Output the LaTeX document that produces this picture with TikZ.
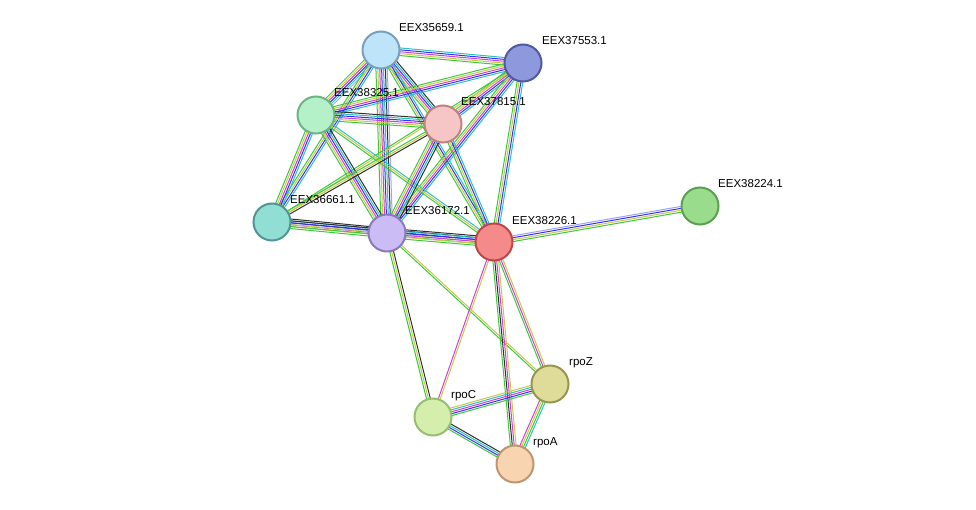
\documentclass[tikz,border=0pt]{standalone}
\usepackage{fontspec}
\setmainfont{Liberation Sans}
\usetikzlibrary{calc}
\definecolor{cG}{HTML}{3FC83F}
\definecolor{cY}{HTML}{C8C84D}
\definecolor{cB}{HTML}{3333EE}
\definecolor{cM}{HTML}{D040D0}
\definecolor{cC}{HTML}{30C0C0}
\definecolor{cK}{HTML}{303030}
\definecolor{cH}{HTML}{A0A0FF}
\newcommand{\stredge}[3]{%
  \foreach \c [count=\i] in {#3} {\xdef\nn{\i}}%
  \foreach \c [count=\i] in {#3} {%
    \pgfmathsetmacro{\o}{(\i-(\nn+1)/2)*1.9}%
    \draw[\c, line width=1pt] ($(#1)!\o pt!90:(#2)$) -- ($(#2)!\o pt!-90:(#1)$);
  }}
\tikzset{prot/.style={circle, minimum size=37pt, line width=2pt, inner sep=0pt},
  lab/.style={anchor=west, font=\fontsize{11.5pt}{12pt}\selectfont, inner sep=0pt}}
\begin{document}
\begin{tikzpicture}[x=1pt,y=-1pt]
\useasboundingbox[fill=white] (0,0) rectangle (976,510);
\coordinate (a) at (381,50);
\coordinate (b) at (523,63);
\coordinate (c) at (316,115);
\coordinate (d) at (443,124);
\coordinate (e) at (272,222);
\coordinate (f) at (387,233);
\coordinate (g) at (494,242);
\coordinate (h) at (700,206);
\coordinate (z) at (550,384);
\coordinate (pc) at (433,417);
\coordinate (pa) at (515,464);
\stredge{a}{b}{cG,cY,cM,cB,cC}
\stredge{a}{c}{cG,cY,cM,cB,cC,cH}
\stredge{a}{d}{cG,cY,cM,cB,cC,cK}
\stredge{a}{e}{cG,cY,cB,cC}
\stredge{a}{f}{cG,cY,cM,cB,cC,cK,cH}
\stredge{a}{g}{cG,cY,cB,cC}
\stredge{b}{c}{cG,cY,cM,cB,cC}
\stredge{b}{d}{cG,cY,cM,cB,cC}
\stredge{b}{e}{cG,cY}
\stredge{b}{f}{cG,cY,cM,cB,cC}
\stredge{b}{g}{cG,cY,cB,cC}
\stredge{c}{d}{cG,cY,cM,cB,cC,cK}
\stredge{c}{e}{cG,cY,cM,cB,cC}
\stredge{c}{f}{cG,cY,cM,cB,cC,cK}
\stredge{c}{g}{cG,cY,cC}
\stredge{d}{e}{cG,cY,cK}
\stredge{d}{f}{cG,cY,cM,cB,cC,cK}
\stredge{d}{g}{cG,cY,cB,cC}
\stredge{e}{f}{cG,cY,cM,cB,cC,cK}
\stredge{e}{g}{cG,cY,cB,cK}
\stredge{f}{g}{cG,cY,cM,cB,cC,cK}
\stredge{g}{h}{cG,cY,cB,cH}
\stredge{f}{pc}{cG,cY,cK}
\stredge{f}{z}{cG,cY}
\stredge{g}{pc}{cM,cY}
\stredge{g}{z}{cG,cM,cY}
\stredge{g}{pa}{cG,cK,cM,cY}
\stredge{pc}{z}{cG,cB,cM,cC,cY}
\stredge{pc}{pa}{cG,cB,cC,cK}
\stredge{z}{pa}{cM,cY,cG,cC}
\node[prot, fill={rgb,255:red,190;green,228;blue,250}, draw={rgb,255:red,120;green,160;blue,190}] (na) at (a) {};
\node[prot, fill={rgb,255:red,142;green,152;blue,220}, draw={rgb,255:red,80;green,90;blue,160}] (nb) at (b) {};
\node[prot, fill={rgb,255:red,180;green,240;blue,200}, draw={rgb,255:red,110;green,180;blue,130}] (nc) at (c) {};
\node[prot, fill={rgb,255:red,246;green,198;blue,198}, draw={rgb,255:red,190;green,130;blue,130}] (nd) at (d) {};
\node[prot, fill={rgb,255:red,144;green,222;blue,212}, draw={rgb,255:red,80;green,150;blue,145}] (ne) at (e) {};
\node[prot, fill={rgb,255:red,204;green,188;blue,246}, draw={rgb,255:red,140;green,120;blue,190}] (nf) at (f) {};
\node[prot, fill={rgb,255:red,244;green,138;blue,138}, draw={rgb,255:red,190;green,70;blue,70}] (ng) at (g) {};
\node[prot, fill={rgb,255:red,152;green,220;blue,140}, draw={rgb,255:red,90;green,160;blue,80}] (nh) at (h) {};
\node[prot, fill={rgb,255:red,222;green,220;blue,152}, draw={rgb,255:red,150;green,150;blue,80}] (nz) at (z) {};
\node[prot, fill={rgb,255:red,214;green,238;blue,172}, draw={rgb,255:red,150;green,190;blue,110}] (npc) at (pc) {};
\node[prot, fill={rgb,255:red,248;green,212;blue,176}, draw={rgb,255:red,190;green,150;blue,110}] (npa) at (pa) {};
\node[lab] (la) at ($(a)+(18,-22)$) {EEX35659.1};
\node[lab] (lb) at ($(b)+(19,-22)$) {EEX37553.1};
\node[lab] (lc) at ($(c)+(18,-22)$) {EEX38325.1};
\node[lab] (ld) at ($(d)+(18,-22)$) {EEX37815.1};
\node[lab] (le) at ($(e)+(18,-22)$) {EEX36661.1};
\node[lab] (lf) at ($(f)+(18,-22)$) {EEX36172.1};
\node[lab] (lg) at ($(g)+(18,-21)$) {EEX38226.1};
\node[lab] (lh) at ($(h)+(18,-22)$) {EEX38224.1};
\node[lab] (lz) at ($(z)+(19,-21)$) {rpoZ};
\node[lab] (lpc) at ($(pc)+(18,-21)$) {rpoC};
\node[lab] (lpa) at ($(pa)+(18,-21)$) {rpoA};
\end{tikzpicture}
\end{document}
